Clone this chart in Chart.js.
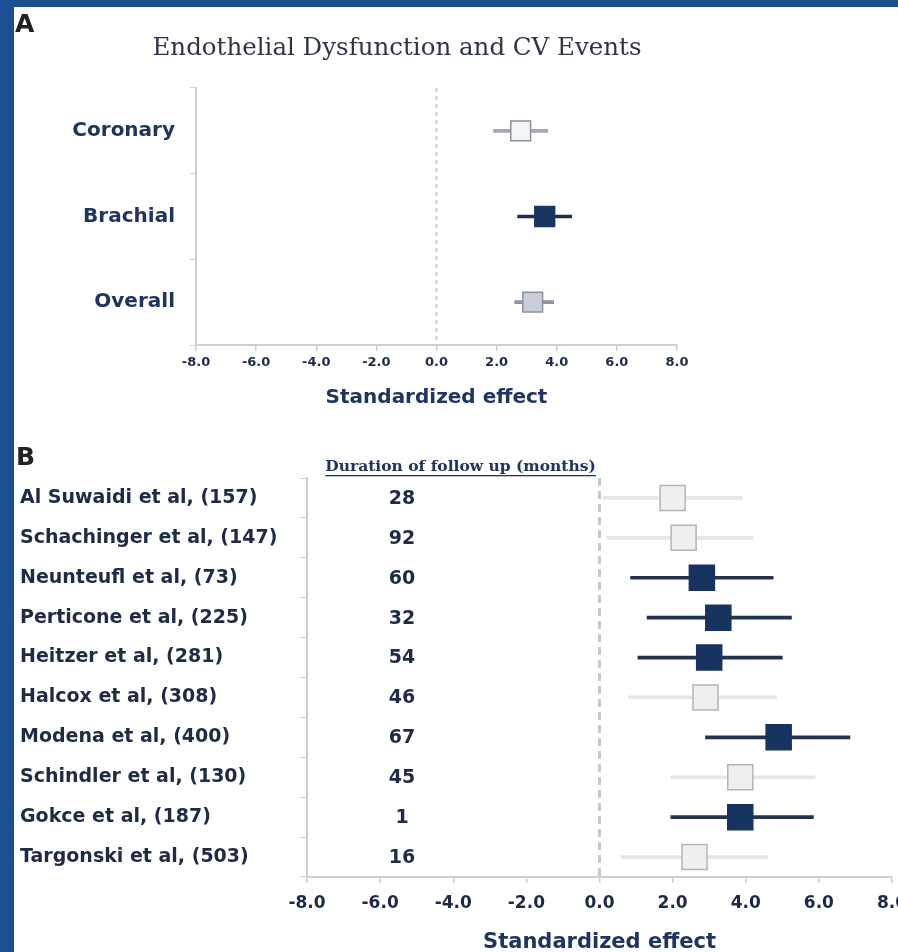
<!DOCTYPE html>
<html>
<head>
<meta charset="utf-8">
<script src="https://cdn.jsdelivr.net/npm/chart.js@4.4.1/dist/chart.umd.min.js"></script>
<style>
  html, body { margin: 0; padding: 0; }
  body { width: 898px; height: 952px; overflow: hidden; background: #1e4f92; position: relative; }
  #sheet { position: absolute; left: 14px; top: 7px; right: 0; bottom: 0; background: #fff; }
  .panel { position: absolute; font-family: "DejaVu Sans"; font-weight: bold; font-size: 25px; line-height: 25px; color: #222; }
  #titleA { position: absolute; left: 0; top: 32px; width: 794px; text-align: center;
            font-family: "DejaVu Serif"; font-size: 24.5px; line-height: 30px; color: #2e3547; }
  #chartA { position: absolute; left: 0; top: 0; }
  #chartB { position: absolute; left: 0; top: 418px; }
</style>
</head>
<body>
<div id="sheet"></div>
<canvas id="chartA" width="794" height="420"></canvas>
<canvas id="chartB" width="930" height="537"></canvas>
<div class="panel" style="left:15px; top:11px;">A</div>
<div class="panel" style="left:16px; top:444px;">B</div>
<div id="titleA">Endothelial Dysfunction and CV Events</div>
<script>
// Panel A: pooled estimates
const aLabels = ['Coronary', 'Brachial', 'Overall'];
const aEffect = [2.8, 3.6, 3.2];
const aLow = [1.9, 2.7, 2.6];
const aHigh = [3.7, 4.5, 3.9];

// Panel B: single studies
const bStudies = ['Al Suwaidi et al, (157)', 'Schachinger et al, (147)', 'Neunteufl et al, (73)',
  'Perticone et al, (225)', 'Heitzer et al, (281)', 'Halcox et al, (308)', 'Modena et al, (400)',
  'Schindler et al, (130)', 'Gokce et al, (187)', 'Targonski et al, (503)'];
const bMonths = [28, 92, 60, 32, 54, 46, 67, 45, 1, 16];
const bEffect = [2.0, 2.3, 2.8, 3.25, 3.0, 2.9, 4.9, 3.85, 3.85, 2.6];
const bLow = [0.1, 0.2, 0.85, 1.3, 1.05, 0.8, 2.9, 1.95, 1.95, 0.6];
const bHigh = [3.9, 4.2, 4.75, 5.25, 5.0, 4.85, 6.85, 5.9, 5.85, 4.6];
const bSignificant = [false, false, true, true, true, false, true, false, true, false];

const xTicks = [-8, -6, -4, -2, 0, 2, 4, 6, 8];

// colours
const aFill = ['#f3f4f8', '#1a3562', '#c9cdd7'];
const aEdge = ['#8c919c', '#1a3562', '#8c909c'];
const aLine = ['#a3a8b4', '#1d2c4c', '#8e93a0'];
const NAVY = '#17335f';
const axisGrey = '#cfcfcf';

const noLabelPad = s => { s.paddingLeft = s.paddingRight = s.paddingTop = s.paddingBottom = 0; };

// dashed line at zero
const zeroLine = {
  id: 'zeroLine',
  beforeDatasetsDraw(chart, args, opts) {
    const {ctx, chartArea, scales} = chart;
    const x = scales.x.getPixelForValue(0);
    ctx.save();
    ctx.strokeStyle = opts.color;
    ctx.lineWidth = opts.width;
    ctx.setLineDash(opts.dash);
    ctx.beginPath();
    ctx.moveTo(x, chartArea.top);
    ctx.lineTo(x, chartArea.bottom);
    ctx.stroke();
    ctx.restore();
  }
};

// follow up column in panel B
const followUp = {
  id: 'followUp',
  afterDatasetsDraw(chart) {
    const {ctx, chartArea, scales: {x, y}} = chart;
    ctx.save();
    ctx.textAlign = 'center';
    ctx.textBaseline = 'middle';
    ctx.font = 'bold 19px "DejaVu Sans"';
    ctx.fillStyle = '#1f2a44';
    const cx = x.getPixelForValue(-5.4);
    bMonths.forEach((m, i) => ctx.fillText(String(m), cx, y.getPixelForValue(i) + 1));

    const head = 'Duration of follow up (months)';
    ctx.font = 'bold 15.5px "DejaVu Serif"';
    ctx.fillStyle = '#1f3560';
    const hx = x.getPixelForValue(-3.8);
    const hy = chartArea.top - 11;
    ctx.fillText(head, hx, hy);
    const w = ctx.measureText(head).width;
    ctx.fillRect(hx - w / 2, hy + 8, w, 1.3);
    ctx.restore();
  }
};

function xAxis(tickSize, tickPad, titleSize, titlePad) {
  return {
    type: 'linear', min: -8, max: 8,
    afterBuildTicks: s => { s.ticks = xTicks.map(v => ({value: v})); },
    afterFit: noLabelPad,
    ticks: {
      callback: v => v.toFixed(1),
      font: {family: 'DejaVu Sans', size: tickSize, weight: 'bold'},
      color: '#1c2a48', padding: tickPad
    },
    grid: {drawOnChartArea: false, tickLength: 6, color: axisGrey, lineWidth: 1.5},
    border: {color: axisGrey, width: 2},
    title: {
      display: true, text: 'Standardized effect', color: '#1f3560', padding: titlePad,
      font: {family: 'DejaVu Sans', size: titleSize, weight: 'bold'}
    }
  };
}

new Chart(document.getElementById('chartA'), {
  type: 'bar',
  data: {
    labels: aLabels,
    datasets: [{
      type: 'line',
      data: aLabels.map((l, i) => ({x: aEffect[i], y: l})),
      showLine: false,
      pointStyle: 'rect',
      pointRadius: 14,
      pointBackgroundColor: aFill,
      pointBorderColor: aEdge,
      pointBorderWidth: 1.5,
      order: 0
    }, {
      data: aLabels.map((l, i) => [aLow[i], aHigh[i]]),
      backgroundColor: aLine,
      borderWidth: 0,
      barThickness: 3,
      order: 1
    }]
  },
  options: {
    responsive: false, animation: false, events: [],
    indexAxis: 'y',
    layout: {padding: {left: 0, right: 117, top: 88, bottom: 6.4}},
    plugins: {
      legend: {display: false}, tooltip: {enabled: false},
      zeroLine: {color: '#c8c8c8', width: 2, dash: [4, 4]}
    },
    scales: {
      x: xAxis(13, 4, 20, {top: 11, bottom: 4}),
      y: {
        type: 'category', offset: true,
        afterFit: s => { noLabelPad(s); s.width = 196; },
        ticks: {font: {family: 'DejaVu Sans', size: 20, weight: 'bold'}, color: '#1f3560', padding: 15},
        grid: {drawOnChartArea: false, offset: true, tickLength: 6, color: axisGrey},
        border: {color: axisGrey, width: 2}
      }
    }
  },
  plugins: [zeroLine]
});

new Chart(document.getElementById('chartB'), {
  type: 'bar',
  data: {
    labels: bStudies,
    datasets: [{
      type: 'line',
      data: bStudies.map((s, i) => ({x: bEffect[i], y: s})),
      showLine: false,
      pointStyle: 'rect',
      pointRadius: 17.7,
      pointBackgroundColor: bSignificant.map(d => d ? NAVY : '#efefef'),
      pointBorderColor: bSignificant.map(d => d ? NAVY : '#b4b4b4'),
      pointBorderWidth: 1.5,
      order: 0
    }, {
      data: bStudies.map((s, i) => [bLow[i], bHigh[i]]),
      backgroundColor: bSignificant.map(d => d ? '#24324f' : '#e6e6e6'),
      borderWidth: 0,
      barThickness: 3,
      order: 1
    }]
  },
  options: {
    responsive: false, animation: false, events: [],
    indexAxis: 'y',
    layout: {padding: {left: 20, right: 38, top: 60, bottom: 0}},
    plugins: {
      legend: {display: false}, tooltip: {enabled: false},
      zeroLine: {color: '#c8c8c8', width: 3, dash: [8, 5]}
    },
    scales: {
      x: xAxis(17, 10, 21, {top: 6.4, bottom: 0}),
      y: {
        type: 'category', offset: true,
        afterFit: s => { noLabelPad(s); s.width = 287; },
        ticks: {font: {family: 'DejaVu Sans', size: 19, weight: 'bold'}, color: '#1f2a44', crossAlign: 'far'},
        grid: {drawOnChartArea: false, offset: true, tickLength: 7, color: axisGrey},
        border: {color: axisGrey, width: 2}
      }
    }
  },
  plugins: [zeroLine, followUp]
});
</script>
</body>
</html>
